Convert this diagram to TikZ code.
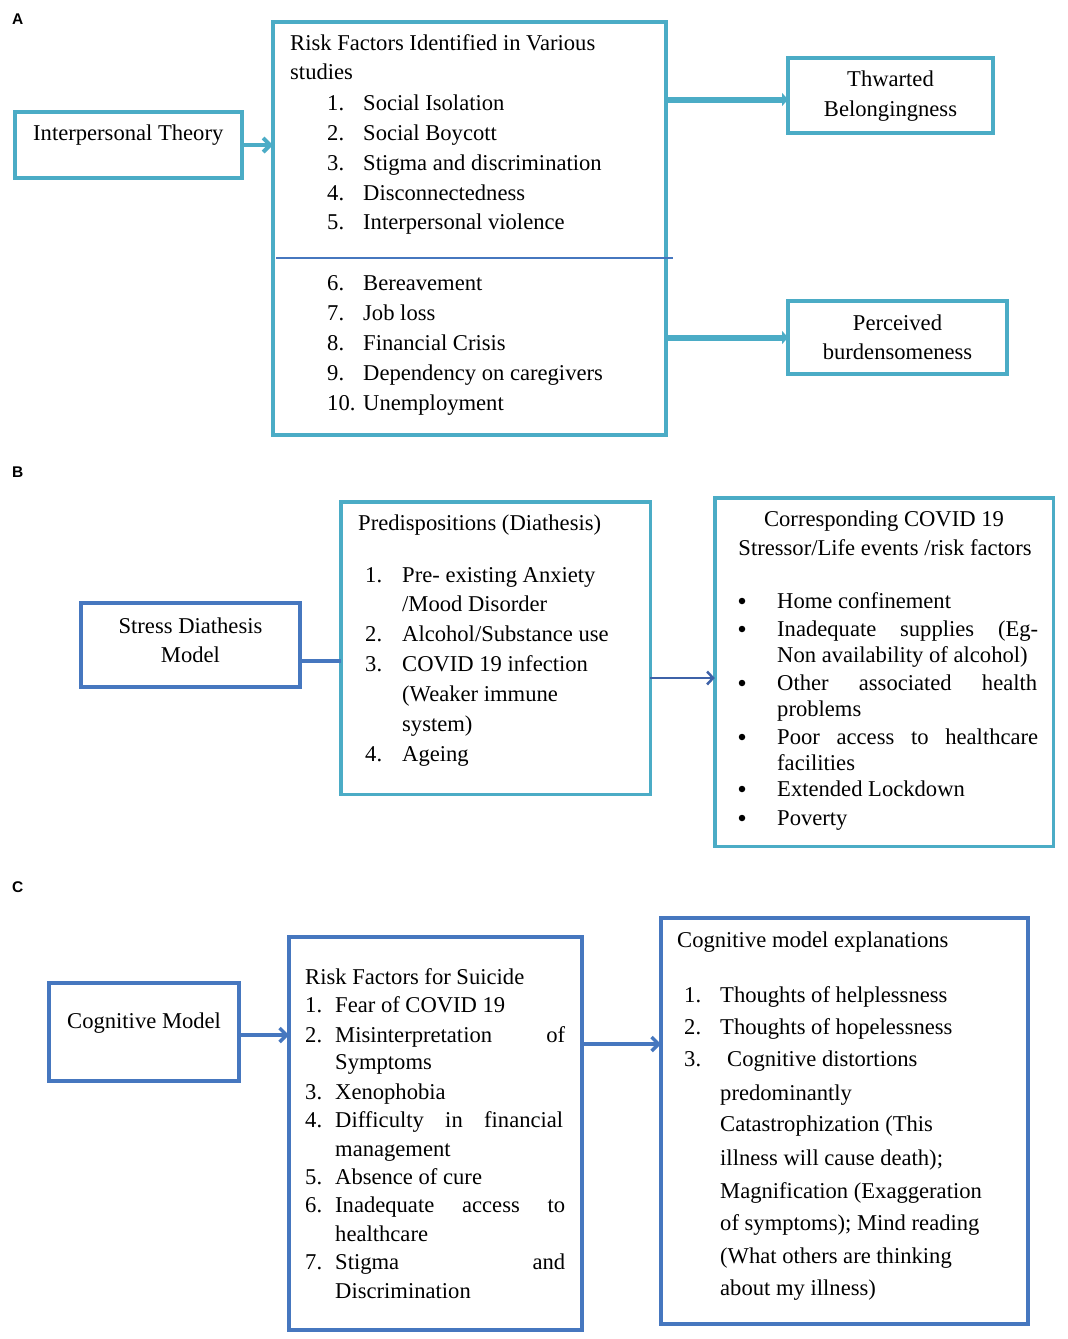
\documentclass[tikz,border=0pt]{standalone}
\usepackage{fontspec}
\setmainfont{Liberation Serif}
\newfontfamily\labfont{Liberation Sans}
\usetikzlibrary{arrows.meta,calc}
\definecolor{teal1}{HTML}{4BACC6}
\definecolor{blue1}{HTML}{4677BF}
\definecolor{blue2}{HTML}{3E62A8}
\newcounter{ln}
\newcommand{\tl}[3]{\stepcounter{ln}\node[txt] (t\theln) at (#1,#2) {#3};}
\newcommand{\tc}[3]{\stepcounter{ln}\node[txtc] (t\theln) at (#1,#2) {#3};}
\newcommand{\bul}[2]{\stepcounter{ln}\node[bull] (t\theln) at (#1,#2-7) {};}
\begin{document}
\begin{tikzpicture}[x=1pt,y=-1pt,
 txt/.style={anchor=base west,inner sep=0pt,font=\fontsize{22.6}{26}\selectfont},
 txtc/.style={anchor=base,inner sep=0pt,font=\fontsize{22.6}{26}\selectfont},
 bull/.style={circle,fill=black,inner sep=0pt,minimum size=6.5pt},
 bx/.style={draw,rectangle,inner sep=0pt,outer sep=0pt,fill=white},
 tbx/.style={bx,draw=teal1,line width=4pt},
 bbx/.style={bx,draw=blue1,line width=4pt},
 lab/.style={anchor=base west,inner sep=0pt,font=\labfont\bfseries\fontsize{15.5}{17}\selectfont}]
\useasboundingbox (0,0) rectangle (1068,1339);
\fill[white] (0,0) rectangle (1068,1339);
% ---------- A ----------
\node[lab] (la) at (12,24) {A};
\node[tbx,minimum width=227pt,minimum height=66pt] (interp) at (128.5,145) {};
\node[tbx,minimum width=393pt,minimum height=413pt] (risk) at (469.5,228.5) {};
\node[tbx,minimum width=205pt,minimum height=75pt] (thw) at (890.5,95.5) {};
\node[tbx,minimum width=219pt,minimum height=73pt] (perc) at (897.5,337.5) {};
\coordinate (dl) at (276,258);
\coordinate (dr) at (673,258);
\draw[blue1,line width=1.5pt] (dl) -- (dr);
\draw[teal1,line width=4pt,-{Straight Barb[length=7pt,width=14pt]}] (interp.east) -- (interp.east -| risk.west);
\draw[teal1,line width=6pt,-{Triangle[length=6pt,width=13pt]}] ([yshift=-4pt]thw.west -| risk.east) -- ([yshift=-4pt]thw.west);
\draw[teal1,line width=6pt,-{Triangle[length=6pt,width=13pt]}] (perc.west -| risk.east) -- (perc.west);
\tl{33}{140}{Interpersonal Theory}
\tl{290}{50}{Risk Factors Identified in Various}
\tl{290}{79}{studies}
\tl{327}{110}{1.}\tl{363}{110}{Social Isolation}
\tl{327}{140}{2.}\tl{363}{140}{Social Boycott}
\tl{327}{170}{3.}\tl{363}{170}{Stigma and discrimination}
\tl{327}{200}{4.}\tl{363}{200}{Disconnectedness}
\tl{327}{229}{5.}\tl{363}{229}{Interpersonal violence}
\tl{327}{290}{6.}\tl{363}{290}{Bereavement}
\tl{327}{320}{7.}\tl{363}{320}{Job loss}
\tl{327}{350}{8.}\tl{363}{350}{Financial Crisis}
\tl{327}{380}{9.}\tl{363}{380}{Dependency on caregivers}
\tl{327}{410}{10.}\tl{363}{410}{Unemployment}
\tc{890.5}{86}{Thwarted}
\tc{890.5}{116}{Belongingness}
\tc{897.5}{330}{Perceived}
\tc{897.5}{359}{burdensomeness}
% ---------- B ----------
\node[lab] (lb) at (12,477) {B};
\node[bbx,minimum width=219pt,minimum height=84pt] (stress) at (190.5,645) {};
\node[tbx,line width=3.5pt,minimum width=309.5pt,minimum height=292.5pt] (pred) at (495.5,648) {};
\node[tbx,line width=3.5pt,minimum width=338.5pt,minimum height=348.5pt] (corr) at (884,672) {};
\draw[blue1,line width=4pt] ([yshift=-16pt]stress.east) -- ([yshift=-16pt]stress.east -| pred.west);
\draw[blue2,line width=2.5pt,-{Straight Barb[length=6pt,width=13pt]}] ([yshift=-6pt]corr.west -| pred.east) -- ([yshift=-6pt]corr.west);
\tc{190.5}{633}{Stress Diathesis}
\tc{190.5}{662}{Model}
\tl{358}{530}{Predispositions (Diathesis)}
\tl{365}{582}{1.}\tl{402}{582}{Pre- existing Anxiety}
\tl{402}{611}{/Mood Disorder}
\tl{365}{641}{2.}\tl{402}{641}{Alcohol/Substance use}
\tl{365}{671}{3.}\tl{402}{671}{COVID 19 infection}
\tl{402}{701}{(Weaker immune}
\tl{402}{731}{system)}
\tl{365}{761}{4.}\tl{402}{761}{Ageing}
\tc{884}{526}{Corresponding COVID 19}
\tc{885}{555}{Stressor/Life events /risk factors}
\bul{742}{608}\tl{777}{608}{Home confinement}
\bul{742}{636}\tl{777}{636}{\makebox[261pt][s]{Inadequate supplies (Eg-}}
\tl{777}{662}{Non availability of alcohol)}
\bul{742}{690}\tl{777}{690}{\makebox[260pt][s]{Other associated health}}
\tl{777}{716}{problems}
\bul{742}{744}\tl{777}{744}{\makebox[261pt][s]{Poor access to healthcare}}
\tl{777}{770}{facilities}
\bul{742}{796}\tl{777}{796}{Extended Lockdown}
\bul{742}{825}\tl{777}{825}{Poverty}
% ---------- C ----------
\node[lab] (lc) at (12,892) {C};
\node[bbx,minimum width=190pt,minimum height=98pt] (cog) at (144,1032) {};
\node[bbx,minimum width=293pt,minimum height=393pt] (crisk) at (435.5,1133.5) {};
\node[bbx,minimum width=367pt,minimum height=406pt] (expl) at (844.5,1121) {};
\draw[blue1,line width=3.5pt,-{Straight Barb[length=7pt,width=14pt]}] ([yshift=-3pt]cog.east) -- ([yshift=-3pt]cog.east -| crisk.west);
\draw[blue1,line width=3.5pt,-{Straight Barb[length=7pt,width=14pt]}] ([yshift=-12pt]cog.east -| crisk.east) -- ([yshift=-12pt]cog.east -| expl.west);
\tl{67}{1028}{Cognitive Model}
\tl{305}{984}{Risk Factors for Suicide}
\tl{305}{1012}{1.}\tl{335}{1012}{Fear of COVID 19}
\tl{305}{1042}{2.}\tl{335}{1042}{\makebox[230pt][s]{Misinterpretation of}}
\tl{335}{1069}{Symptoms}
\tl{305}{1099}{3.}\tl{335}{1099}{Xenophobia}
\tl{305}{1127}{4.}\tl{335}{1127}{\makebox[228pt][s]{Difficulty in financial}}
\tl{335}{1156}{management}
\tl{305}{1184}{5.}\tl{335}{1184}{Absence of cure}
\tl{305}{1212}{6.}\tl{335}{1212}{\makebox[230pt][s]{Inadequate access to}}
\tl{335}{1241}{healthcare}
\tl{305}{1269}{7.}\tl{335}{1269}{\makebox[230pt][s]{Stigma and}}
\tl{335}{1298}{Discrimination}
\tl{677}{947}{Cognitive model explanations}
\tl{684}{1002}{1.}\tl{720}{1002}{Thoughts of helplessness}
\tl{684}{1034}{2.}\tl{720}{1034}{Thoughts of hopelessness}
\tl{684}{1066}{3.}\tl{727}{1066}{Cognitive distortions}
\tl{720}{1100}{predominantly}
\tl{720}{1131}{Catastrophization (This}
\tl{720}{1165}{illness will cause death);}
\tl{720}{1198}{Magnification (Exaggeration}
\tl{720}{1230}{of symptoms); Mind reading}
\tl{720}{1263}{(What others are thinking}
\tl{720}{1295}{about my illness)}
\end{tikzpicture}
\end{document}
